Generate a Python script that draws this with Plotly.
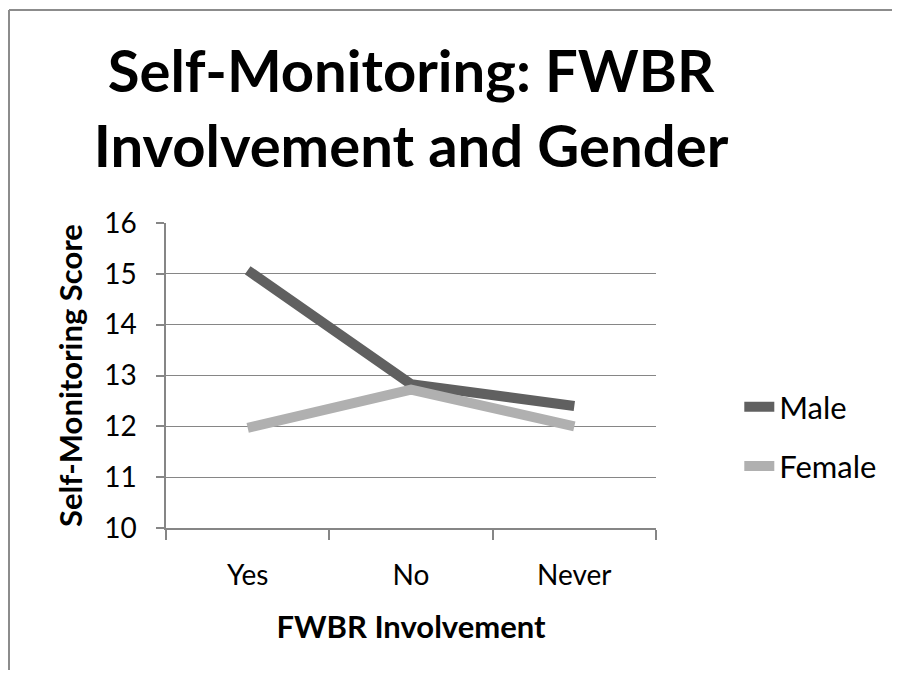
import plotly.graph_objects as go

# FWBR involvement categories and mean self-monitoring scores
categories = ["Yes", "No", "Never"]
male_scores = [15.07, 12.83, 12.4]
female_scores = [11.97, 12.72, 12.0]
y_ticks = [10, 11, 12, 13, 14, 15, 16]

FONT = "Lato, Calibri, sans-serif"
GRID = "#868686"
FRAME = dict(color="#8c8c8c", width=2)

fig = go.Figure()
fig.add_trace(
    go.Scatter(
        x=categories,
        y=male_scores,
        mode="lines",
        name="Male",
        legendgroup="m",
        line=dict(color="#606060", width=10),
    )
)
fig.add_trace(
    go.Scatter(
        x=categories,
        y=female_scores,
        mode="lines",
        name="Female",
        legendgroup="f",
        line=dict(color="#b0b0b0", width=10),
    )
)

# page body has an 8px margin, so the figure is a bit smaller than the window
fig.update_layout(
    width=892,
    height=662,
    paper_bgcolor="white",
    plot_bgcolor="white",
    margin=dict(l=158, r=244, t=215, b=142),
    font=dict(family=FONT, color="black"),
    title=dict(
        text="<b>Self-Monitoring: FWBR<br>Involvement and Gender</b>",
        x=0.5,
        xanchor="center",
        xref="paper",
        y=1 - 84 / 662,
        yanchor="middle",
        font=dict(size=58, family=FONT, color="black"),
    ),
    legend=dict(
        x=1.17,
        xanchor="left",
        y=0.30,
        yanchor="middle",
        font=dict(size=31, family=FONT),
        traceorder="grouped",
        tracegroupgap=16,
        bgcolor="rgba(0,0,0,0)",
    ),
    showlegend=True,
    shapes=[
        # chart-area frame: only its left and top edges fall inside the picture
        dict(type="line", xref="paper", yref="paper", x0=-0.3204, x1=-0.3204,
             y0=-0.6, y1=1.698, line=FRAME, layer="below"),
        dict(type="line", xref="paper", yref="paper", x0=-0.3204, x1=1.6,
             y0=1.698, y1=1.698, line=FRAME, layer="below"),
    ],
)

fig.update_xaxes(
    type="category",
    range=[-0.5, 2.5],
    showgrid=False,
    zeroline=False,
    showline=True,
    linecolor=GRID,
    linewidth=1.5,
    ticks="outside",
    tickson="boundaries",
    ticklen=10,
    tickcolor=GRID,
    tickwidth=1.5,
    ticklabelstandoff=22,
    tickfont=dict(size=28, family=FONT),
    title=dict(text="<b>FWBR Involvement</b>", font=dict(size=31, family=FONT), standoff=26),
)
fig.update_yaxes(
    range=[10, 16],
    tickvals=y_ticks,
    showgrid=True,
    gridcolor=GRID,
    gridwidth=1.2,
    zeroline=False,
    showline=True,
    linecolor=GRID,
    linewidth=1.5,
    ticks="outside",
    ticklen=8,
    tickcolor=GRID,
    tickwidth=1.5,
    ticklabelstandoff=14,
    tickfont=dict(size=28, family=FONT),
    title=dict(text="<b>Self-Monitoring Score</b>", font=dict(size=31, family=FONT), standoff=12),
)

fig.write_html("out.html")
